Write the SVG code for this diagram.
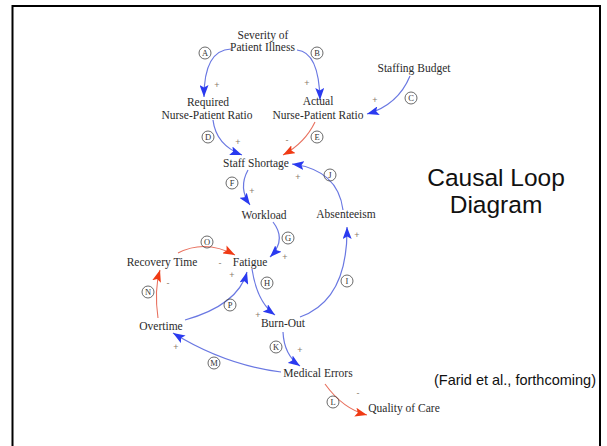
<svg xmlns="http://www.w3.org/2000/svg" width="607" height="446" viewBox="0 0 607 446">
  <defs>
    <marker id="arrow-blue" markerUnits="userSpaceOnUse" markerWidth="13" markerHeight="9" refX="12" refY="4.5" orient="auto">
      <path d="M0,0 L12,4.5 L0,9 L2.5,4.5 z" fill="#2a3af0"/>
    </marker>
    <marker id="arrow-red" markerUnits="userSpaceOnUse" markerWidth="13" markerHeight="9" refX="12" refY="4.5" orient="auto">
      <path d="M0,0 L12,4.5 L0,9 L2.5,4.5 z" fill="#f03a14"/>
    </marker>
  </defs>
  <style>
    .node { font-family: "Liberation Serif", "Times New Roman", serif; font-size: 11.5px; fill: #2b2b2b; text-anchor: middle; }
    .title { font-family: "Liberation Sans", Arial, sans-serif; font-size: 24.5px; fill: #111; text-anchor: middle; }
    .cite { font-family: "Liberation Sans", Arial, sans-serif; font-size: 14.5px; fill: #111; text-anchor: middle; }
    .pos { stroke: #6a78e2; stroke-width: 1.2; fill: none; marker-end: url(#arrow-blue); }
    .neg { stroke: #e8705e; stroke-width: 1.1; fill: none; marker-end: url(#arrow-red); }
    .tag circle { fill: none; stroke: #444; stroke-width: 0.8; }
    .tag text { font-family: "Liberation Serif", "Times New Roman", serif; font-size: 8.5px; fill: #333; text-anchor: middle; }
    .sign { font-family: "Liberation Sans", Arial, sans-serif; font-size: 9px; fill: #8a7a6a; text-anchor: middle; }
  </style>

  <rect x="0" y="0" width="607" height="446" fill="#ffffff"/>
  <!-- slide frame -->
  <rect x="12.5" y="6" width="587.5" height="460" fill="none" stroke="#000" stroke-width="2"/>

  <!-- causal links -->
  <g id="connectors">
    <path class="pos" d="M231,49 Q204,50 204,97"/>
    <path class="pos" d="M297,50 Q319,52 320,100"/>
    <path class="pos" d="M410,76 Q398,105 367,114"/>
    <path class="pos" d="M213,120 Q216,145 242,155"/>
    <path class="neg" d="M315,122 Q305,143 283,155"/>
    <path class="pos" d="M248,170 Q238,188 250,205"/>
    <path class="pos" d="M273,222 Q287,240 270,257"/>
    <path class="pos" d="M252,269 Q257,302 275,315"/>
    <path class="pos" d="M300,317 Q348,300 347,227"/>
    <path class="pos" d="M343,210 Q338,170 292,164"/>
    <path class="pos" d="M283,332 Q284,355 300,366"/>
    <path class="neg" d="M325,384 Q343,409 367,415"/>
    <path class="pos" d="M281,372 Q225,365 173,333"/>
    <path class="neg" d="M158,318 Q154,290 160,270"/>
    <path class="neg" d="M178,253 Q205,239 235,255"/>
    <path class="pos" d="M185,320 Q238,305 247,272"/>
  </g>

  <!-- link labels -->
  <g id="link-tags">
    <g class="tag"><circle cx="205" cy="53" r="6"/><text x="205" y="56">A</text></g>
    <g class="tag"><circle cx="317" cy="53" r="6"/><text x="317" y="56">B</text></g>
    <g class="tag"><circle cx="411" cy="98" r="6"/><text x="411" y="101">C</text></g>
    <g class="tag"><circle cx="208" cy="137" r="6"/><text x="208" y="140">D</text></g>
    <g class="tag"><circle cx="317" cy="137" r="6"/><text x="317" y="140">E</text></g>
    <g class="tag"><circle cx="232" cy="183" r="6"/><text x="232" y="186">F</text></g>
    <g class="tag"><circle cx="288" cy="238" r="6"/><text x="288" y="241">G</text></g>
    <g class="tag"><circle cx="267" cy="283" r="6"/><text x="267" y="286">H</text></g>
    <g class="tag"><circle cx="347" cy="281" r="6"/><text x="347" y="284">I</text></g>
    <g class="tag"><circle cx="330" cy="175" r="6"/><text x="330" y="178">J</text></g>
    <g class="tag"><circle cx="276" cy="347" r="6"/><text x="276" y="350">K</text></g>
    <g class="tag"><circle cx="333" cy="402" r="6"/><text x="333" y="405">L</text></g>
    <g class="tag"><circle cx="214" cy="363" r="6"/><text x="214" y="366">M</text></g>
    <g class="tag"><circle cx="148" cy="292" r="6"/><text x="148" y="295">N</text></g>
    <g class="tag"><circle cx="207" cy="242" r="6"/><text x="207" y="245">O</text></g>
    <g class="tag"><circle cx="230" cy="305" r="6"/><text x="230" y="308">P</text></g>
  </g>

  <!-- polarity signs -->
  <g id="polarity">
    <text class="sign" x="217" y="88">+</text>
    <text class="sign" x="307" y="86">+</text>
    <text class="sign" x="375" y="103">+</text>
    <text class="sign" x="238" y="145">+</text>
    <text class="sign" x="287" y="143">-</text>
    <text class="sign" x="252" y="194">+</text>
    <text class="sign" x="285" y="260">+</text>
    <text class="sign" x="258" y="318">+</text>
    <text class="sign" x="357" y="238">+</text>
    <text class="sign" x="298" y="180">+</text>
    <text class="sign" x="300" y="353">+</text>
    <text class="sign" x="358" y="396">-</text>
    <text class="sign" x="176" y="350">+</text>
    <text class="sign" x="168" y="286">-</text>
    <text class="sign" x="220" y="266">-</text>
    <text class="sign" x="232" y="278">+</text>
  </g>

  <!-- variables -->
  <g id="severity"><text class="node" x="263" y="39">Severity of</text><text class="node" x="262.5" y="51">Patient Illness</text></g>
  <g id="staffing-budget"><text class="node" x="414" y="72">Staffing Budget</text></g>
  <g id="required-ratio"><text class="node" x="208" y="106">Required</text><text class="node" x="207" y="119">Nurse-Patient Ratio</text></g>
  <g id="actual-ratio"><text class="node" x="318" y="105">Actual</text><text class="node" x="318" y="118.5">Nurse-Patient Ratio</text></g>
  <g id="staff-shortage"><text class="node" x="256" y="167">Staff Shortage</text></g>
  <g id="workload"><text class="node" x="264" y="218.5">Workload</text></g>
  <g id="absenteeism"><text class="node" x="346" y="218">Absenteeism</text></g>
  <g id="recovery-time"><text class="node" x="162" y="266">Recovery Time</text></g>
  <g id="fatigue"><text class="node" x="250" y="266">Fatigue</text></g>
  <g id="overtime"><text class="node" x="161" y="330">Overtime</text></g>
  <g id="burn-out"><text class="node" x="283" y="327">Burn-Out</text></g>
  <g id="medical-errors"><text class="node" x="318" y="377">Medical Errors</text></g>
  <g id="quality-of-care"><text class="node" x="404" y="412">Quality of Care</text></g>

  <!-- slide titles -->
  <text class="title" x="496" y="186">Causal Loop</text>
  <text class="title" x="496" y="213">Diagram</text>
  <text class="cite" x="515" y="385">(Farid et al., forthcoming)</text>
</svg>
